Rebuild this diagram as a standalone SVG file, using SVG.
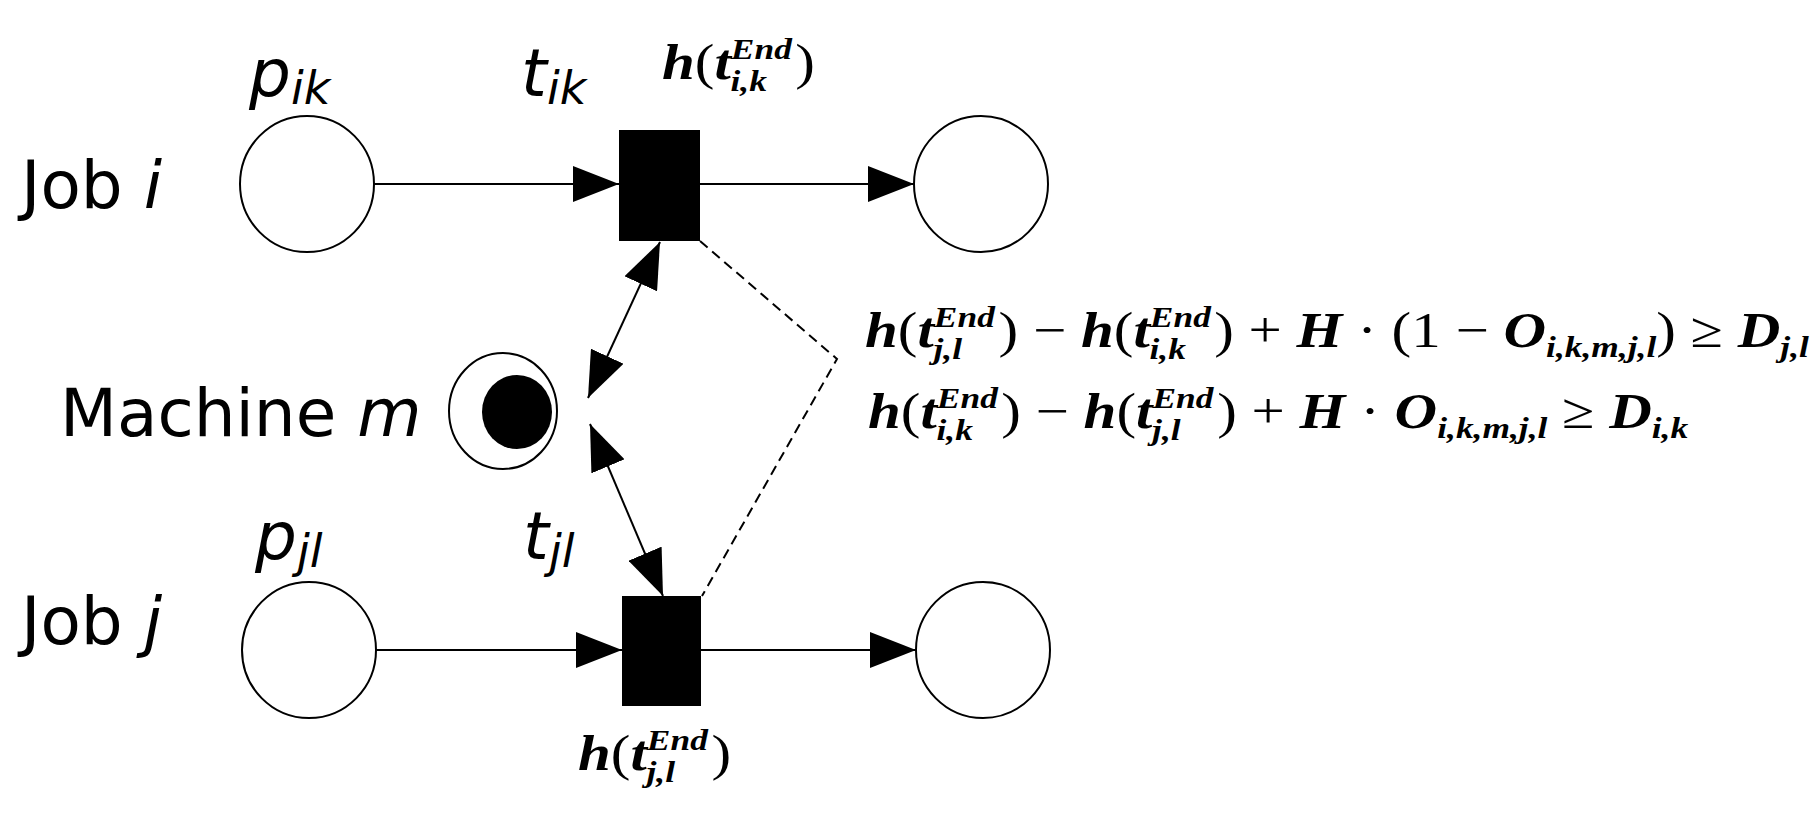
<svg xmlns="http://www.w3.org/2000/svg" width="1814" height="830" viewBox="0 0 1814 830">
<defs>
<style>
.pl{fill:#fff;stroke:#000;stroke-width:2}
.tr{fill:#000}
.ln{stroke:#000;stroke-width:2;fill:none}
.lb{font-family:"DejaVu Sans",sans-serif;font-size:66px;fill:#000}
.it{font-style:italic}
.m{font-family:"Liberation Serif",serif;font-weight:bold;font-style:italic;fill:#000;font-size:50px}
.s{font-size:30px}
.up{font-style:normal;font-weight:normal}
</style>
<marker id="ah" viewBox="0 0 10 10" refX="10" refY="5" markerWidth="46" markerHeight="36" markerUnits="userSpaceOnUse" orient="auto-start-reverse" preserveAspectRatio="none"><path d="M0,0 L10,5 L0,10 Z" fill="#000"/></marker>
</defs>
<rect width="1814" height="830" fill="#fff"/>
<g id="connectors">
<line class="ln" x1="374" y1="184" x2="619" y2="184" marker-end="url(#ah)"/>
<line class="ln" x1="700" y1="184" x2="914" y2="184" marker-end="url(#ah)"/>
<line class="ln" x1="376" y1="650" x2="622" y2="650" marker-end="url(#ah)"/>
<line class="ln" x1="701" y1="650" x2="916" y2="650" marker-end="url(#ah)"/>
<line class="ln" x1="588" y1="398" x2="660" y2="242" marker-start="url(#ah)" marker-end="url(#ah)"/>
<line class="ln" x1="590" y1="424" x2="663" y2="596" marker-start="url(#ah)" marker-end="url(#ah)"/>
<polyline class="ln" points="700,241 837,359 702,596" stroke-dasharray="10,6"/>
</g>
<g id="p_ik"><ellipse class="pl" cx="307" cy="184" rx="67" ry="68"/></g>
<g id="t_ik"><rect class="tr" x="619" y="130" width="81" height="111"/></g>
<g id="p_ik_out"><ellipse class="pl" cx="981" cy="184" rx="67" ry="68"/></g>
<g id="p_jl"><ellipse class="pl" cx="309" cy="650" rx="67" ry="68"/></g>
<g id="t_jl"><rect class="tr" x="622" y="596" width="79" height="110"/></g>
<g id="p_jl_out"><ellipse class="pl" cx="983" cy="650" rx="67" ry="68"/></g>
<g id="machine"><ellipse class="pl" cx="503" cy="411" rx="54" ry="58"/><ellipse cx="517" cy="412" rx="35" ry="37" fill="#000"/></g>
<g id="labels">
<text class="lb" x="21" y="208">Job <tspan class="it">i</tspan></text>
<text class="lb" x="60" y="436">Machine <tspan class="it">m</tspan></text>
<text class="lb" x="21" y="644">Job <tspan class="it">j</tspan></text>
<text class="lb it" x="249" y="96">p<tspan font-size="46" dy="8">ik</tspan></text>
<text class="lb it" x="521" y="96">t<tspan font-size="46" dy="8">ik</tspan></text>
<text class="lb it" x="255" y="559">p<tspan font-size="46" dy="8">jl</tspan></text>
<text class="lb it" x="523" y="559">t<tspan font-size="46" dy="8">jl</tspan></text>
<g transform="translate(662,79) scale(1.18,1)"><text class="m" x="0" y="0">h<tspan class="up">(</tspan>t<tspan class="s" dy="-20">End</tspan><tspan class="s" dx="-52" dy="32">i,k</tspan><tspan class="up" dx="24" dy="-12">)</tspan></text></g>
<g transform="translate(578,770) scale(1.18,1)"><text class="m" x="0" y="0">h<tspan class="up">(</tspan>t<tspan class="s" dy="-20">End</tspan><tspan class="s" dx="-52" dy="32">j,l</tspan><tspan class="up" dx="31" dy="-12">)</tspan></text></g>
<g transform="translate(865,347) scale(1.18,1)"><text class="m" x="0" y="0">h<tspan class="up">(</tspan>t<tspan class="s" dy="-20">End</tspan><tspan class="s" dx="-52" dy="32">j,l</tspan><tspan class="up" dx="31" dy="-12">) − </tspan>h<tspan class="up">(</tspan>t<tspan class="s" dy="-20">End</tspan><tspan class="s" dx="-52" dy="32">i,k</tspan><tspan class="up" dx="24" dy="-12">) + </tspan>H<tspan class="up"> · (1 − </tspan>O<tspan class="s" dy="10">i,k,m,j,l</tspan><tspan class="up" dy="-10">) ≥ </tspan>D<tspan class="s" dy="10">j,l</tspan></text></g>
<g transform="translate(868,428) scale(1.18,1)"><text class="m" x="0" y="0">h<tspan class="up">(</tspan>t<tspan class="s" dy="-20">End</tspan><tspan class="s" dx="-52" dy="32">i,k</tspan><tspan class="up" dx="24" dy="-12">) − </tspan>h<tspan class="up">(</tspan>t<tspan class="s" dy="-20">End</tspan><tspan class="s" dx="-52" dy="32">j,l</tspan><tspan class="up" dx="31" dy="-12">) + </tspan>H<tspan class="up"> · </tspan>O<tspan class="s" dy="10">i,k,m,j,l</tspan><tspan class="up" dy="-10"> ≥ </tspan>D<tspan class="s" dy="10">i,k</tspan></text></g>
</g>
</svg>
